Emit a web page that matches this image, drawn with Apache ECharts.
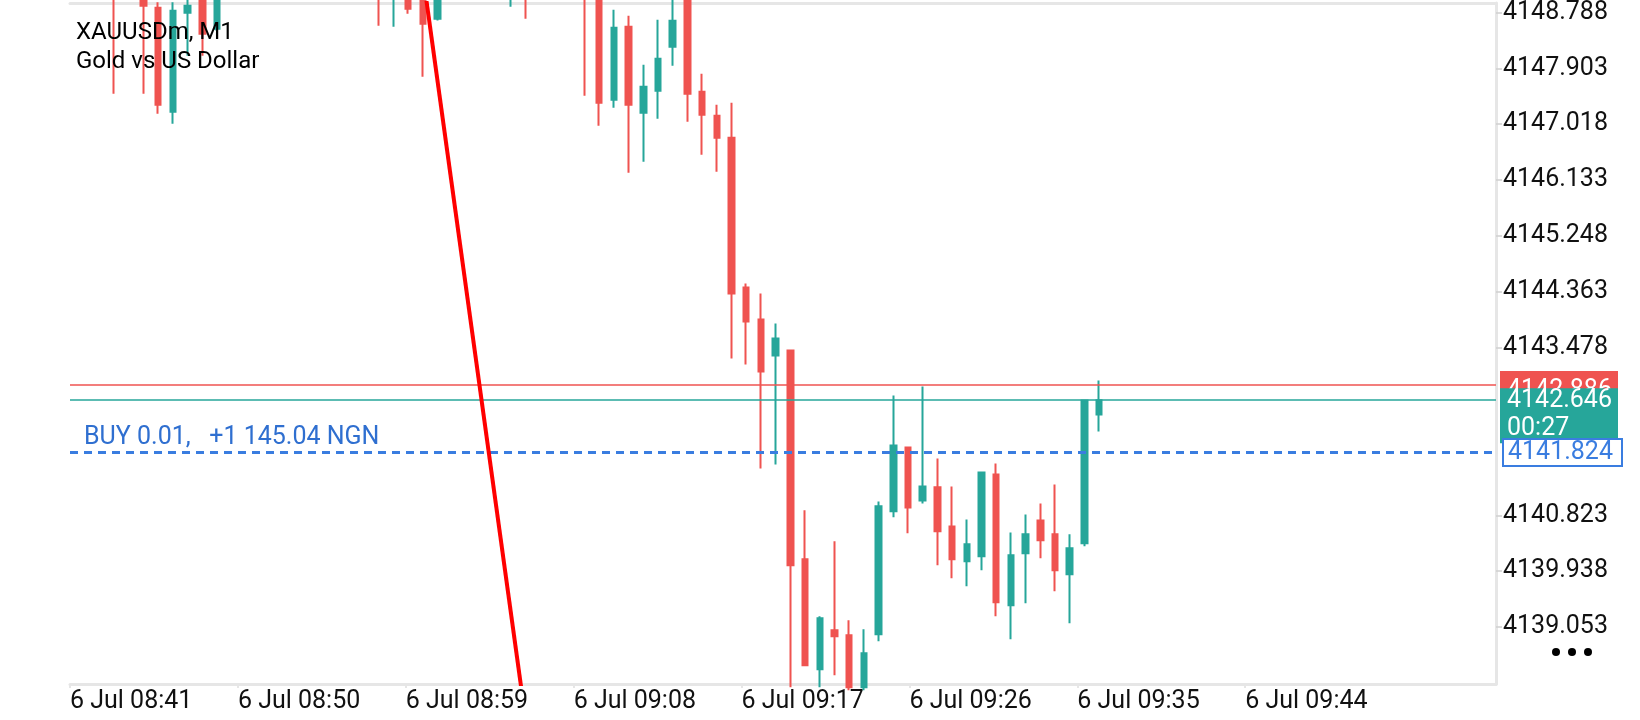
<!DOCTYPE html>
<html>
<head>
<meta charset="utf-8">
<title>XAUUSDm, M1</title>
<script src="https://cdn.jsdelivr.net/npm/echarts@6/dist/echarts.min.js"></script>
<style>
    html, body { margin: 0; padding: 0; background: #fff; }
    #chart { width: 1640px; height: 720px; }
</style>
</head>
<body>
<div id="chart"></div>
<script>
// candle slot on the x axis (one minute per slot)
const slots = [0, 1, 2, 3, 4, 5, 6, 7, 8, 9, 10, 11, 12, 13, 14, 15, 16, 17, 18, 19,
    20, 21, 22, 23, 24, 25, 26, 27, 28, 29, 30, 31, 32, 33, 34, 35, 36, 37, 38, 39,
    40, 41, 42, 43, 44, 45, 46, 47, 48, 49, 50, 51, 52, 53, 54, 55, 56, 57, 58, 59,
    60, 61, 62, 63, 64, 65, 66, 67, 68, 69, 70];

const opens = [4150.10, 4149.80, 4150.20, 4149.70, 4149.30, 4149.60, 4148.862, 4147.216, 4148.783, 4149.05,
    4148.530, 4149.20, 4149.60, 4150.00, 4149.70, 4150.30, 4150.60, 4150.20, 4149.80, 4150.10,
    4149.60, 4149.40, 4149.10, 4149.50, 4149.00, 4148.688, 4149.20, 4149.60, 4150.00, 4149.70,
    4149.20, 4149.50, 4149.20, 4149.60, 4149.90, 4149.50, 4149.10, 4147.406, 4148.561, 4147.200,
    4147.548, 4148.245, 4149.05, 4147.532, 4147.153, 4146.804, 4144.430, 4143.924, 4143.354, 4143.433,
    4140.125, 4138.384, 4139.002, 4138.922, 4138.100, 4138.938, 4140.885, 4141.898, 4141.059, 4141.265,
    4140.647, 4140.094, 4140.173, 4141.470, 4139.397, 4140.220, 4140.742, 4140.521, 4139.888, 4140.378,
    4142.420];
const closes = [4149.80, 4150.20, 4149.70, 4149.30, 4149.60, 4148.894, 4147.327, 4148.814, 4148.894, 4148.450,
    4149.20, 4149.60, 4150.00, 4149.70, 4150.30, 4150.60, 4150.20, 4149.80, 4150.10, 4149.60,
    4149.40, 4149.10, 4149.50, 4148.846, 4148.609, 4149.20, 4149.60, 4150.00, 4149.70, 4149.40,
    4149.50, 4149.20, 4149.60, 4149.90, 4149.50, 4149.10, 4147.358, 4148.545, 4147.327, 4147.612,
    4148.055, 4148.656, 4147.501, 4147.168, 4146.804, 4144.335, 4143.892, 4143.101, 4143.623, 4140.030,
    4138.448, 4139.191, 4138.907, 4138.100, 4138.637, 4140.964, 4141.929, 4140.948, 4141.280, 4140.568,
    4140.125, 4140.363, 4141.502, 4139.445, 4140.188, 4140.521, 4140.426, 4139.951, 4140.299, 4142.642,
    4142.646];
const lows = [4149.60, 4149.50, 4149.40, 4147.50, 4149.10, 4147.501, 4147.184, 4147.026, 4148.102, 4148.102,
    4148.50, 4149.10, 4149.40, 4149.50, 4149.60, 4150.10, 4150.00, 4149.60, 4149.50, 4149.40,
    4149.20, 4148.577, 4148.561, 4148.767, 4147.770, 4148.66, 4149.10, 4149.40, 4149.50, 4149.20,
    4148.878, 4148.688, 4149.10, 4149.30, 4149.30, 4147.469, 4146.994, 4147.279, 4146.250, 4146.424,
    4147.105, 4147.944, 4147.058, 4146.535, 4146.266, 4143.306, 4143.211, 4141.565, 4141.629, 4138.100,
    4138.440, 4138.100, 4138.289, 4138.050, 4138.050, 4138.827, 4140.790, 4140.537, 4141.011, 4140.030,
    4139.825, 4139.698, 4139.951, 4139.223, 4138.859, 4139.429, 4140.141, 4139.619, 4139.112, 4140.331,
    4142.151];
const highs = [4150.30, 4150.40, 4150.30, 4149.90, 4149.80, 4149.70, 4148.95, 4148.95, 4149.05, 4149.20,
    4149.40, 4149.80, 4150.20, 4150.30, 4150.50, 4150.80, 4150.90, 4150.40, 4150.30, 4150.20,
    4149.90, 4149.60, 4149.70, 4149.60, 4149.10, 4149.40, 4149.80, 4150.10, 4150.20, 4149.90,
    4149.70, 4149.60, 4149.80, 4150.10, 4150.00, 4149.60, 4149.20, 4148.830, 4148.735, 4147.960,
    4148.672, 4149.00, 4149.20, 4147.817, 4147.327, 4147.358, 4144.493, 4144.335, 4143.860, 4143.433,
    4140.901, 4139.223, 4140.410, 4139.160, 4139.017, 4141.043, 4142.721, 4141.898, 4142.863, 4141.724,
    4141.280, 4140.758, 4141.502, 4141.644, 4140.552, 4140.837, 4141.011, 4141.312, 4140.521, 4142.642,
    4142.958];

// price axis labels (two are hidden behind the price boxes)
const priceTicks = [4148.788, 4147.903, 4147.018, 4146.133, 4145.248, 4144.363, 4143.478,
    4140.823, 4139.938, 4139.053];
// time axis labels and where they sit on the slot axis
const timeTicks = [0, 11.42, 22.84, 34.26, 45.68, 57.1, 68.52, 79.94];
const timeLabels = ["6 Jul 08:41", "6 Jul 08:50", "6 Jul 08:59", "6 Jul 09:08",
    "6 Jul 09:17", "6 Jul 09:26", "6 Jul 09:35", "6 Jul 09:44"];

// drawn trend line, two anchor points [slot, price]
const trendLine = [[23.64, 4150.0], [31.34, 4137.0]];

const askPrice = 4142.886;
const bidPrice = 4142.646;
const buyPrice = 4141.824;
const countdown = "00:27";
const buyText = "BUY 0.01,   +1 145.04 NGN";
const titleLines = ["XAUUSDm, M1", "Gold vs US Dollar"];

const UP = "#26a69a";
const DOWN = "#ef5350";
const BLUE = "#3a7de0";
const FRAME = "#e6e6e6";
const FONT = "Roboto, 'Noto Sans', sans-serif";

const chart = echarts.init(document.getElementById("chart"));

const candles = slots.map((s, i) => [s, opens[i], closes[i], lows[i], highs[i]]);

function timeLabel(value) {
    let best = 0;
    timeTicks.forEach((t, i) => {
        if (Math.abs(t - value) < Math.abs(timeTicks[best] - value)) best = i;
    });
    return timeLabels[best];
}

chart.setOption({
    animation: false,
    backgroundColor: "#fff",
    grid: { left: 70, right: 144, top: 2, bottom: 36 },
    xAxis: [
        {
            type: "value",
            min: 0,
            max: 97,
            position: "bottom",
            axisLine: { show: true, onZero: false, lineStyle: { color: FRAME, width: 3 } },
            axisTick: { show: true, length: 4, customValues: timeTicks, lineStyle: { color: FRAME, width: 2 } },
            axisLabel: {
                customValues: timeTicks,
                formatter: timeLabel,
                align: "left",
                margin: 5,
                color: "#111",
                fontSize: 25,
                fontFamily: FONT
            },
            splitLine: { show: false }
        },
        {
            type: "value",
            min: 0,
            max: 97,
            position: "top",
            axisLine: { show: true, onZero: false, lineStyle: { color: FRAME, width: 3 } },
            axisTick: { show: false },
            axisLabel: { show: false },
            splitLine: { show: false }
        }
    ],
    yAxis: {
        type: "value",
        position: "right",
        min: 4138.15,
        max: 4148.94,
        axisLine: { show: true, onZero: false, lineStyle: { color: FRAME, width: 3 } },
        axisTick: { show: true, length: 6, customValues: priceTicks, lineStyle: { color: "#d0d0d0", width: 1.5 } },
        axisLabel: {
            customValues: priceTicks,
            formatter: v => v.toFixed(3),
            margin: 7,
            color: "#111",
            fontSize: 25,
            fontFamily: FONT
        },
        splitLine: { show: false }
    },
    series: [
        {
            name: "XAUUSDm",
            type: "candlestick",
            xAxisIndex: 0,
            encode: { x: 0, y: [1, 2, 3, 4] },
            data: candles,
            barWidth: 6,
            clip: true,
            silent: true,
            itemStyle: {
                color: UP,
                color0: DOWN,
                borderColor: UP,
                borderColor0: DOWN,
                borderWidth: 2
            },
            markLine: {
                silent: true,
                symbol: ["none", "none"],
                label: { show: false },
                data: [
                    { yAxis: askPrice, lineStyle: { color: DOWN, width: 1.5, type: "solid" } },
                    { yAxis: bidPrice, lineStyle: { color: UP, width: 1.5, type: "solid" } },
                    {
                        yAxis: buyPrice,
                        lineStyle: { color: BLUE, width: 3, type: [8, 6] },
                        label: {
                            show: true,
                            position: "insideStartTop",
                            formatter: buyText,
                            color: "#2f6fd0",
                            fontSize: 25,
                            fontFamily: FONT,
                            distance: [14, 2]
                        }
                    }
                ]
            }
        },
        {
            name: "trend",
            type: "line",
            xAxisIndex: 0,
            data: trendLine,
            symbol: "none",
            clip: true,
            silent: true,
            lineStyle: { color: "#ff0000", width: 4 },
            z: 5
        }
    ]
});

// price boxes on the right edge, placed from the axis scale
const yAsk = chart.convertToPixel({ yAxisIndex: 0 }, askPrice);
const yBid = chart.convertToPixel({ yAxisIndex: 0 }, bidPrice);
const yBuy = chart.convertToPixel({ yAxisIndex: 0 }, buyPrice);
const boxFont = "25px " + FONT;

chart.setOption({
    graphic: [
        { type: "text", x: 76, y: 33, z: 50, style: { text: titleLines[0], font: "24px " + FONT, fill: "#000", verticalAlign: "middle" } },
        { type: "text", x: 76, y: 62, z: 50, style: { text: titleLines[1], font: "24px " + FONT, fill: "#000", verticalAlign: "middle" } },

        { type: "rect", z: 50, shape: { x: 1500, y: yAsk - 14, width: 118, height: 28 }, style: { fill: DOWN } },
        { type: "text", z: 51, x: 1507, y: yAsk + 6, style: { text: askPrice.toFixed(3), font: boxFont, fill: "#fff", verticalAlign: "middle" } },

        { type: "rect", z: 52, shape: { x: 1500, y: yBid - 12, width: 118, height: 55 }, style: { fill: UP } },
        { type: "text", z: 53, x: 1507, y: yBid + 1, style: { text: bidPrice.toFixed(3), font: boxFont, fill: "#fff", verticalAlign: "middle" } },
        { type: "text", z: 53, x: 1507, y: yBid + 29, style: { text: countdown, font: boxFont, fill: "#fff", verticalAlign: "middle" } },

        { type: "rect", z: 54, shape: { x: 1503, y: yBuy - 13, width: 119, height: 27 }, style: { fill: "#fff", stroke: BLUE, lineWidth: 2 } },
        { type: "text", z: 55, x: 1508, y: yBuy + 1, style: { text: buyPrice.toFixed(3), font: boxFont, fill: BLUE, verticalAlign: "middle" } },

        { type: "circle", z: 50, shape: { cx: 1556, cy: 652, r: 4 }, style: { fill: "#000" } },
        { type: "circle", z: 50, shape: { cx: 1572, cy: 652, r: 4 }, style: { fill: "#000" } },
        { type: "circle", z: 50, shape: { cx: 1588, cy: 652, r: 4 }, style: { fill: "#000" } }
    ]
});
</script>
</body>
</html>
